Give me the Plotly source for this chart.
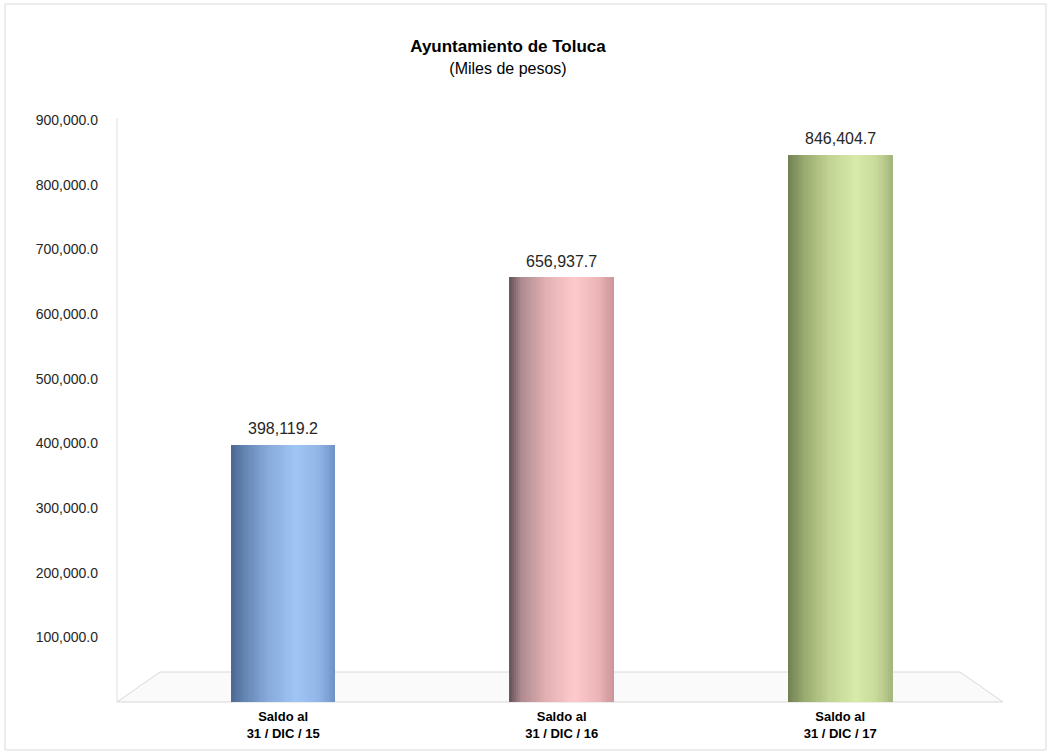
import plotly.graph_objects as go

# ---- data ----
categories = ["Saldo al<br>31 / DIC / 15", "Saldo al<br>31 / DIC / 16", "Saldo al<br>31 / DIC / 17"]
values = [398119.2, 656937.7, 846404.7]
value_labels = ["398,119.2", "656,937.7", "846,404.7"]
tick_vals = [100000, 200000, 300000, 400000, 500000, 600000, 700000, 800000, 900000]
tick_text = ["100,000.0", "200,000.0", "300,000.0", "400,000.0", "500,000.0",
             "600,000.0", "700,000.0", "800,000.0", "900,000.0"]

# cylinder shading gradient stops (position across bar, colour) per bar
gradients = [
    [(0.0, "#4a6890"), (0.12, "#6283b0"), (0.35, "#86aadb"), (0.62, "#a0c6f5"),
     (0.85, "#8fb4e6"), (1.0, "#6e90c2")],
    [(0.0, "#65535a"), (0.12, "#b08c91"), (0.35, "#e2b0b3"), (0.62, "#fecacb"),
     (0.85, "#ecb5b8"), (1.0, "#c99598")],
    [(0.0, "#707f50"), (0.15, "#98a96f"), (0.4, "#c2d494"), (0.65, "#d8eaa8"),
     (0.85, "#c8da99"), (1.0, "#a4b57c")],
]

def hex_to_rgb(h):
    h = h.lstrip("#")
    return tuple(int(h[i:i + 2], 16) for i in (0, 2, 4))

def sample(stops, t):
    for (p0, c0), (p1, c1) in zip(stops[:-1], stops[1:]):
        if p0 <= t <= p1:
            f = (t - p0) / (p1 - p0) if p1 > p0 else 0
            a, b = hex_to_rgb(c0), hex_to_rgb(c1)
            return "rgb(%d,%d,%d)" % tuple(round(a[k] + (b[k] - a[k]) * f) for k in range(3))
    return stops[-1][1]

W, H = 1052, 755
L, R, T, B = 116, 67, 107, 53
bar_width = 0.375
n = 48

fig = go.Figure()
for i in range(n):
    t = (i + 0.5) / n
    fig.add_trace(go.Bar(
        x=[0, 1, 2], y=values,
        width=bar_width / n * 1.05,
        offset=-bar_width / 2 + i * bar_width / n,
        marker=dict(color=[sample(g, t) for g in gradients], line=dict(width=0)),
        hoverinfo="skip", showlegend=False,
    ))

for xi, (v, lab) in enumerate(zip(values, value_labels)):
    fig.add_annotation(x=xi, y=v, text=lab, showarrow=False, yshift=16,
                       font=dict(family="Liberation Sans, Arial", size=16, color="#262626"))

# helpers for decorative floor / frame (pixel -> paper)
pw, ph = W - L - R, H - T - B
def px(x):
    return (x - L) / pw
def py(y):
    return (H - B - y) / ph

floor_path = (f"M {px(117)} {py(702)} L {px(160)} {py(672)} L {px(960)} {py(672)} "
              f"L {px(1003)} {py(702)} Z")
shapes = [
    dict(type="path", xref="paper", yref="paper", path=floor_path,
         fillcolor="rgba(245,245,245,0.5)", line=dict(color="#d9d9d9", width=1), layer="below"),
    dict(type="line", xref="paper", yref="paper", x0=px(117), x1=px(117), y0=py(702), y1=py(118),
         line=dict(color="#e0e0e0", width=1), layer="below"),
    dict(type="rect", xref="paper", yref="paper", x0=px(5), x1=px(1046), y0=py(750), y1=py(4),
         line=dict(color="#d9d9d9", width=1), layer="below"),
]

fig.update_layout(
    width=W, height=H,
    margin=dict(l=L, r=R, t=T, b=B),
    paper_bgcolor="white", plot_bgcolor="white",
    barmode="overlay", bargap=0,
    font=dict(family="Liberation Sans, Arial", color="#262626"),
    title=dict(
        text="<b>Ayuntamiento de Toluca</b><br><span style='font-size:16px'>(Miles de pesos)</span>",
        x=508 / W, xanchor="center", y=1 - 52 / H, yanchor="top",
        font=dict(family="Liberation Sans, Arial", size=17, color="#000000"),
    ),
    xaxis=dict(
        range=[-0.6, 2.52], tickmode="array", tickvals=[0, 1, 2],
        ticktext=["<b>" + c.replace("<br>", "</b><br><b>") + "</b>" for c in categories],
        showgrid=False, zeroline=False, showline=False, ticks="", automargin=False,
        ticklabelstandoff=5,
        tickfont=dict(family="Liberation Sans, Arial", size=13, color="#000000"),
    ),
    yaxis=dict(
        range=[0, 920000], tickmode="array", tickvals=tick_vals, ticktext=tick_text,
        showgrid=False, zeroline=False, showline=False, ticks="", automargin=False,
        ticklabelstandoff=17,
        tickfont=dict(family="Liberation Sans, Arial", size=14, color="#262626"),
    ),
    shapes=shapes,
)

fig.write_html("out.html", config={"displayModeBar": False},
               post_script="document.body.style.margin='0';")
